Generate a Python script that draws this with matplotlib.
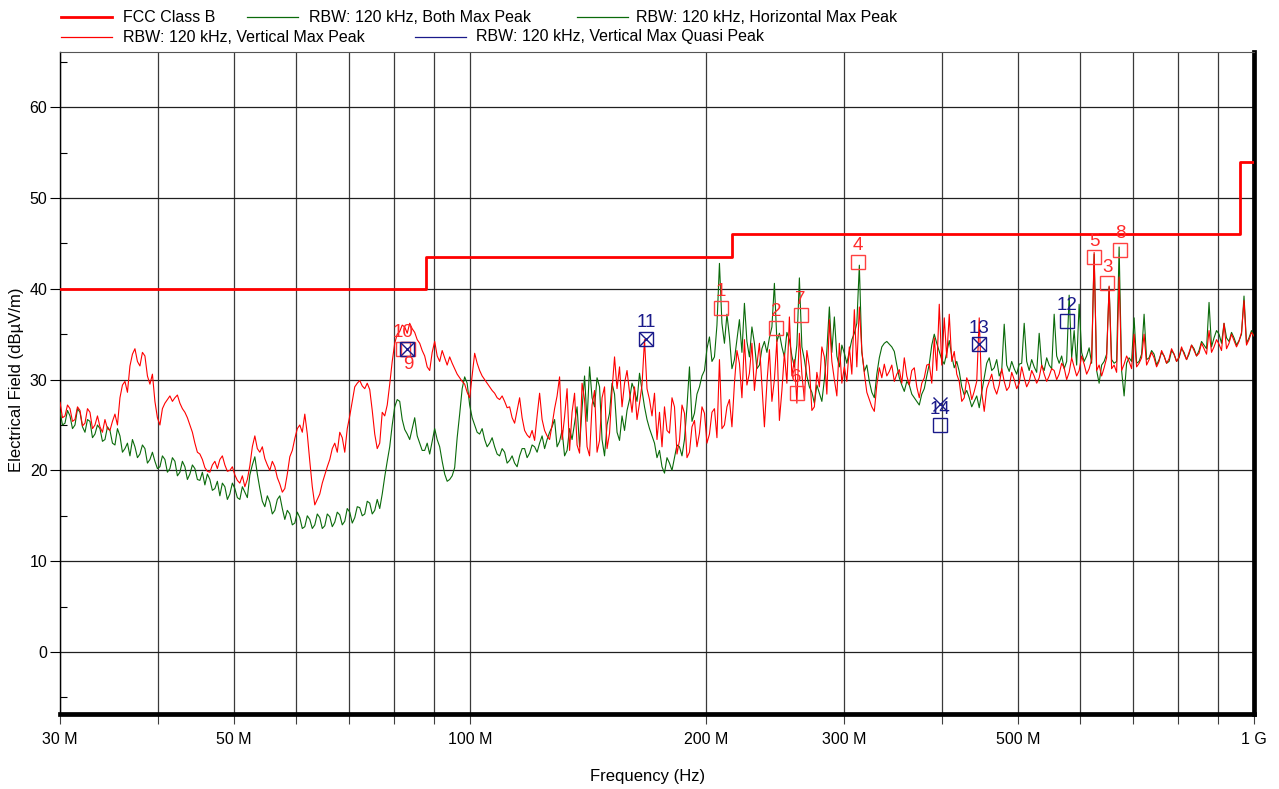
import numpy as np
import matplotlib.pyplot as plt
from matplotlib.lines import Line2D
from matplotlib.ticker import FixedLocator, MultipleLocator

plt.rcParams['font.family'] = ['Liberation Sans', 'DejaVu Sans']

# FCC Part 15 class B limit (3 m)
limit_freq = [30, 88, 88, 216, 216, 960, 960, 1000]
limit_level = [40, 40, 43.5, 43.5, 46, 46, 54, 54]

# vertical polarisation, max peak (dBuV/m), even sweep points
vert_peak = [
    27.5, 26.0, 26.8, 25.6, 26.6, 25.2, 26.4, 25.0, 24.8, 25.6, 24.4, 26.2, 28.0, 29.8, 31.5, 33.4, 31.5, 32.6, 29.5, 27.6,
    25.0, 27.4, 28.2, 28.0, 27.4, 26.4, 25.0, 23.0, 21.8, 20.3, 19.8, 21.0, 21.2, 20.6, 20.0, 19.5, 18.6, 18.2, 20.5, 23.8,
    22.0, 21.3, 20.0, 20.4, 18.5, 18.0, 21.5, 23.5, 25.0, 26.2, 21.0, 16.2, 17.4, 19.5, 21.2, 23.0, 24.2, 22.0, 26.0, 29.2,
    29.9, 29.0, 28.9, 24.0, 23.0, 26.0, 29.5, 34.0, 35.3, 35.8, 36.2, 35.2, 34.0, 32.6, 31.0, 34.2, 32.0, 32.4, 32.5, 31.2,
    30.2, 29.5, 28.0, 32.9, 31.0, 30.0, 29.2, 28.5, 27.8, 27.6, 27.0, 25.2, 28.0, 24.4, 23.6, 23.3, 28.5, 24.4, 23.4, 26.8,
    30.3, 25.9, 22.2, 28.5, 21.9, 27.8, 21.6, 28.8, 23.3, 29.2, 24.1, 32.5, 31.4, 29.6, 28.6, 29.2, 27.4, 34.4, 27.8, 28.5,
    26.4, 27.0, 24.1, 27.0, 23.3, 26.3, 22.0, 25.5, 24.1, 26.3, 24.0, 26.8, 32.2, 25.0, 27.8, 29.6, 31.8, 34.4, 30.7, 28.8,
    34.0, 24.8, 33.3, 30.0, 25.5, 32.9, 36.9, 32.2, 35.1, 27.8, 31.4, 27.0, 29.2, 32.5, 36.6, 30.0, 34.0, 31.4, 33.6, 37.7,
    38.0, 30.7, 27.8, 26.5, 31.3, 31.7, 30.9, 29.8, 31.1, 32.4, 29.4, 31.3, 28.0, 30.2, 31.7, 34.6, 38.3, 36.8, 37.2, 33.1,
    29.8, 28.0, 29.4, 28.7, 36.8, 26.5, 29.8, 29.1, 29.4, 29.8, 29.2, 30.0, 29.6, 30.2, 29.8, 30.4, 30.2, 30.6, 30.4, 31.0,
    30.6, 31.3, 30.8, 31.4, 31.0, 31.7, 31.2, 44.0, 31.6, 31.3, 40.3, 31.6, 41.3, 31.7, 32.0, 35.0, 31.8, 35.0, 32.2, 32.4,
    32.0, 32.6, 32.3, 32.8, 32.5, 32.8, 33.0, 33.2, 32.9, 33.4, 35.4, 33.6, 33.9, 36.2, 34.0, 34.3, 34.2, 38.7, 34.4, 34.8,
]
# odd sweep points (between the ones above)
vert_peak_odd = [
    25.8, 27.2, 25.4, 27.0, 24.9, 26.8, 24.6, 26.0, 24.2, 24.6, 25.4, 25.0, 29.4, 28.6, 32.8, 32.0, 33.0, 30.4, 30.6, 25.8,
    26.8, 27.8, 27.6, 28.3, 26.8, 25.8, 24.2, 22.0, 21.2, 19.9, 20.6, 20.2, 21.6, 19.9, 20.4, 18.9, 19.4, 19.0, 22.6, 22.4,
    22.6, 20.6, 21.0, 19.2, 17.6, 19.6, 22.2, 24.6, 24.2, 24.0, 18.2, 16.8, 18.6, 20.4, 22.4, 22.0, 23.6, 24.6, 27.6, 29.6,
    29.3, 29.6, 26.6, 22.4, 26.4, 27.2, 32.0, 35.0, 36.0, 35.1, 35.6, 34.4, 33.2, 31.4, 33.0, 32.6, 33.2, 31.6, 31.8, 30.6,
    29.8, 28.6, 30.5, 31.8, 30.4, 29.6, 28.8, 28.0, 28.2, 26.9, 25.8, 26.6, 25.8, 23.9, 24.4, 26.0, 25.6, 23.8, 25.0, 28.2,
    23.4, 29.0, 26.4, 22.8, 29.6, 22.6, 27.2, 22.0, 28.0, 22.4, 28.8, 29.0, 27.0, 31.0, 26.4, 25.6, 29.4, 29.0, 26.0, 23.4,
    22.6, 24.4, 28.0, 21.8, 27.2, 21.4, 24.8, 22.6, 27.0, 23.0, 26.4, 23.6, 24.6, 27.0, 24.8, 33.2, 28.0, 29.4, 34.0, 31.6,
    29.4, 29.6, 27.6, 34.4, 28.8, 29.6, 30.4, 27.4, 30.6, 33.2, 26.6, 30.8, 33.6, 28.4, 32.0, 28.2, 29.6, 29.8, 30.6, 31.4,
    33.2, 28.6, 27.0, 29.4, 30.2, 30.4, 31.6, 30.6, 29.6, 30.4, 31.0, 29.2, 29.6, 31.6, 29.6, 31.0, 31.6, 32.4, 32.0, 30.6,
    27.6, 30.2, 27.8, 29.8, 28.6, 29.0, 30.6, 28.4, 31.2, 28.8, 30.8, 29.0, 31.4, 29.2, 31.0, 29.6, 31.6, 29.8, 31.2, 30.0,
    31.8, 30.0, 32.4, 30.4, 32.6, 30.6, 32.2, 31.0, 30.4, 32.4, 31.2, 30.8, 31.0, 32.6, 31.2, 31.4, 32.4, 31.6, 33.0, 31.4,
    33.2, 31.8, 33.4, 32.0, 33.6, 32.2, 33.8, 32.6, 34.0, 32.8, 33.0, 34.4, 33.2, 33.4, 35.0, 33.6, 35.2, 33.8, 35.2,
]

# horizontal polarisation, max peak (dBuV/m)
horiz_peak = [
    26.5, 25.2, 26.0, 25.0, 26.4, 24.2, 25.4, 24.0, 24.6, 23.4, 24.4, 22.8, 23.8, 22.4, 21.6, 22.6, 21.8, 22.4, 21.2, 21.0,
    20.4, 21.2, 20.2, 21.0, 19.8, 20.4, 19.6, 20.2, 18.9, 18.4, 19.0, 18.0, 17.2, 18.2, 17.4, 18.0, 16.8, 17.6, 19.5, 21.5,
    18.0, 16.0, 16.5, 15.6, 17.2, 14.6, 15.2, 14.2, 14.8, 13.8, 14.6, 14.0, 14.8, 13.9, 14.9, 14.3, 15.1, 14.4, 15.4, 14.8,
    15.9, 15.2, 16.4, 15.6, 15.8, 19.3, 22.6, 27.0, 27.6, 24.5, 23.4, 25.8, 23.0, 22.2, 21.8, 24.6, 22.6, 19.6, 19.0, 20.3,
    26.2, 30.3, 27.2, 25.0, 24.0, 23.4, 23.0, 22.6, 21.6, 22.0, 21.1, 20.8, 21.6, 22.4, 21.9, 22.6, 23.0, 22.4, 24.2, 25.6,
    23.2, 21.6, 24.6, 25.2, 22.6, 30.4, 31.4, 27.0, 29.2, 21.6, 26.3, 28.4, 23.3, 24.4, 27.8, 28.8, 30.7, 27.0, 24.6, 23.0,
    22.2, 19.7, 20.8, 21.4, 22.6, 23.4, 31.4, 26.3, 29.2, 31.0, 34.7, 32.5, 42.8, 34.0, 34.7, 32.2, 36.6, 38.4, 32.5, 34.0,
    31.6, 34.2, 34.6, 40.6, 35.1, 32.5, 34.4, 31.4, 41.2, 32.2, 29.2, 27.4, 28.5, 30.0, 38.0, 36.9, 31.4, 32.9, 33.1, 35.1,
    42.6, 30.9, 29.8, 28.0, 32.4, 34.0, 33.9, 33.1, 30.2, 28.7, 29.4, 28.0, 27.2, 29.0, 31.7, 35.0, 33.1, 31.7, 34.3, 31.3,
    30.9, 28.3, 28.0, 27.6, 26.9, 30.2, 32.4, 31.3, 30.4, 36.1, 30.9, 31.2, 31.7, 36.2, 31.0, 31.4, 35.1, 31.0, 31.6, 37.2,
    31.8, 31.2, 39.3, 35.4, 38.3, 32.0, 33.5, 43.8, 29.6, 32.0, 40.2, 31.8, 44.6, 28.2, 32.4, 36.8, 32.0, 37.2, 32.4, 32.8,
    32.2, 32.6, 32.0, 32.8, 32.4, 33.0, 32.8, 33.4, 33.2, 33.8, 38.5, 34.6, 35.0, 36.2, 34.2, 34.6, 34.3, 39.2, 34.6, 34.8,
]
horiz_peak_odd = [
    25.0, 26.6, 24.6, 26.8, 24.8, 25.6, 23.6, 25.0, 23.2, 24.8, 23.0, 24.6, 22.0, 23.0, 23.4, 21.4, 22.8, 20.8, 22.0, 20.2,
    21.6, 19.8, 21.4, 19.4, 21.0, 19.0, 20.6, 19.0, 19.8, 19.6, 17.8, 18.8, 18.6, 16.8, 18.6, 17.0, 18.2, 17.0, 20.6, 19.6,
    16.6, 17.2, 15.2, 16.8, 15.8, 15.6, 14.0, 15.4, 13.6, 15.0, 13.6, 15.2, 13.6, 15.2, 13.8, 15.4, 14.0, 15.8, 14.2, 16.0,
    15.0, 16.6, 15.2, 16.8, 17.4, 21.0, 25.0, 27.8, 25.6, 24.0, 24.6, 23.8, 22.2, 23.0, 23.2, 23.4, 21.0, 18.8, 19.4, 23.6,
    29.0, 29.6, 25.8, 24.2, 24.6, 22.6, 23.6, 21.8, 22.4, 20.8, 21.6, 20.4, 22.4, 21.4, 22.8, 22.0, 23.8, 23.4, 24.8, 22.6,
    24.4, 22.2, 23.4, 27.0, 26.8, 25.4, 28.0, 30.2, 23.4, 25.0, 29.6, 24.2, 26.0, 26.6, 29.6, 27.6, 28.8, 25.6, 23.8, 21.4,
    20.4, 21.4, 20.0, 22.8, 21.6, 27.0, 25.4, 28.4, 30.4, 33.4, 32.0, 36.0, 36.2, 37.2, 31.2, 34.4, 33.0, 34.2, 35.8, 31.2,
    33.4, 33.0, 35.8, 34.2, 33.6, 35.2, 32.6, 33.8, 33.6, 30.4, 28.6, 29.4, 27.6, 33.2, 33.0, 32.6, 33.8, 31.8, 34.4, 36.2,
    33.0, 31.6, 28.6, 30.6, 33.6, 34.2, 33.6, 31.6, 29.4, 29.8, 28.4, 27.6, 28.4, 30.4, 33.8, 34.0, 32.2, 33.0, 32.6, 32.0,
    29.2, 28.8, 27.0, 28.2, 28.6, 31.8, 31.0, 32.2, 31.0, 31.6, 32.0, 30.6, 31.8, 32.0, 32.2, 30.8, 31.6, 32.4, 31.2, 32.6,
    32.6, 32.0, 32.4, 31.6, 33.0, 32.6, 31.8, 31.0, 31.6, 32.8, 32.2, 32.0, 31.0, 31.8, 32.0, 31.8, 32.8, 32.2, 33.2, 31.6,
    33.0, 31.8, 33.2, 32.0, 33.4, 32.2, 33.8, 32.6, 34.2, 33.4, 33.6, 35.4, 34.0, 34.6, 35.2, 33.8, 35.0, 34.0, 35.4,
]

# peak markers (MHz, dBuV/m)
pk_no = ['1', '2', '3', '4', '5', '6', '7', '8', '9', '10']
pk_freq = [209.0, 246.0, 650.0, 312.6, 625.0, 261.0, 264.0, 675.0, 83.4, 82.2]
pk_level = [37.9, 35.7, 40.6, 43.0, 43.5, 28.5, 37.1, 44.3, 33.4, 33.4]

# quasi peak markers
qp_no = ['', '11', '12', '13', '14']
qp_freq = [83.2, 167.7, 577.6, 446.0, 398.0]
qp_level = [33.4, 34.5, 36.4, 33.9, 25.0]
qp_crossed = [True, True, False, True, False]


def interleave(even, odd):
    out = np.empty(len(even) + len(odd))
    out[0::2] = even
    out[1::2] = odd
    return out


vert = interleave(vert_peak, vert_peak_odd)
horiz = interleave(horiz_peak, horiz_peak_odd)
# log sweep 30 MHz .. 1 GHz
sweep_freq = np.geomspace(30, 1000, len(vert))

RED = '#ff0000'
GREEN = '#0a6a0a'
NAVY = '#1a1a8a'

fig = plt.figure(figsize=(12.79, 7.89), dpi=100)
ax = fig.add_axes([60 / 1279, 1 - 714 / 789, 1194 / 1279, 662 / 789])

ax.plot(sweep_freq, horiz, color=GREEN, lw=0.8, zorder=3)
ax.plot(sweep_freq, vert, color=RED, lw=0.8, zorder=4)
ax.plot(limit_freq, limit_level, color=RED, lw=2.0, zorder=5)

for n, f, v in zip(pk_no, pk_freq, pk_level):
    ax.plot(f, v, marker='s', ms=9.4, mfc='none', mec='#ff4040', mew=1.0, zorder=6)
    dy = -11.5 if n == '9' else 11.5
    ax.annotate(n, (f, v), xytext=(0, dy), textcoords='offset points',
                ha='center', va='center', fontsize=13.5, color='#ff2a2a', zorder=7)

for n, f, v, c in zip(qp_no, qp_freq, qp_level, qp_crossed):
    ax.plot(f, v, marker='s', ms=9.4, mfc='none', mec=NAVY, mew=1.0, zorder=6)
    if c:
        ax.plot(f, v, marker='x', ms=9.4, mec=NAVY, mew=1.0, zorder=6)
    if n:
        ax.annotate(n, (f, v), xytext=(0, 11.5), textcoords='offset points',
                    ha='center', va='center', fontsize=13.5, color=NAVY, zorder=7)
ax.plot(398.0, 27.3, marker='x', ms=9.4, mec=NAVY, mew=1.0, zorder=6)

ax.set_xscale('log')
ax.set_xlim(30, 1000)
ax.set_ylim(-6.83, 66.08)

xt = [30, 40, 50, 60, 70, 80, 90, 100, 200, 300, 400, 500, 600, 700, 800, 900, 1000]
xt_lbl = {30: '30 M', 50: '50 M', 100: '100 M', 200: '200 M', 300: '300 M',
          500: '500 M', 1000: '1 G'}
ax.xaxis.set_major_locator(FixedLocator(xt))
ax.xaxis.set_minor_locator(FixedLocator([]))
ax.set_xticklabels([xt_lbl.get(t, '') for t in xt])
ax.yaxis.set_major_locator(MultipleLocator(10))
ax.yaxis.set_minor_locator(FixedLocator([-5, 5, 15, 25, 35, 45, 55, 65]))

ax.tick_params(axis='x', which='major', direction='out', length=7, width=0.8,
               labelsize=11.5, pad=6, color='#404040')
ax.tick_params(axis='y', which='major', direction='out', length=7, width=0.8,
               labelsize=11.5, pad=2)
ax.tick_params(axis='y', which='minor', direction='in', length=5, width=0.8)

ax.grid(True, axis='x', which='major', color='#3a3a3a', lw=0.9)
ax.grid(True, axis='y', which='major', color='#202020', lw=0.9)
ax.set_axisbelow(True)

ax.spines['left'].set_linewidth(1.0)
ax.spines['top'].set_linewidth(0.8)
ax.spines['top'].set_color('#555555')
ax.spines['bottom'].set_linewidth(3.4)
ax.spines['right'].set_linewidth(3.4)

fig.text(17 / 1279, 1 - 380 / 789, 'Electrical Field (dBµV/m)', rotation=90,
         ha='center', va='center', fontsize=12)
fig.text(648 / 1279, 1 - 777 / 789, 'Frequency (Hz)', ha='center', va='center',
         fontsize=12)

# legend, two flowing rows above the plot
legend_rows = [
    (17, [(61, 112, 123, RED, 2.0, 'FCC Class B'),
          (247, 298, 309, GREEN, 0.9, 'RBW: 120 kHz, Both Max Peak'),
          (577, 628, 636, GREEN, 0.9, 'RBW: 120 kHz, Horizontal Max Peak')]),
    (37, [(61, 112, 123, RED, 0.9, 'RBW: 120 kHz, Vertical Max Peak'),
          (415, 466, 476, NAVY, 0.9, 'RBW: 120 kHz, Vertical Max Quasi Peak')]),
]
for ypx, items in legend_rows:
    yf = 1 - ypx / 789
    for x0, x1, xt_, col, lw, txt in items:
        fig.add_artist(Line2D([x0 / 1279, x1 / 1279], [yf, yf], color=col, lw=lw,
                              transform=fig.transFigure))
        fig.text(xt_ / 1279, yf, txt, ha='left', va='center', fontsize=11.5)

fig.savefig('out.png', dpi=100)
